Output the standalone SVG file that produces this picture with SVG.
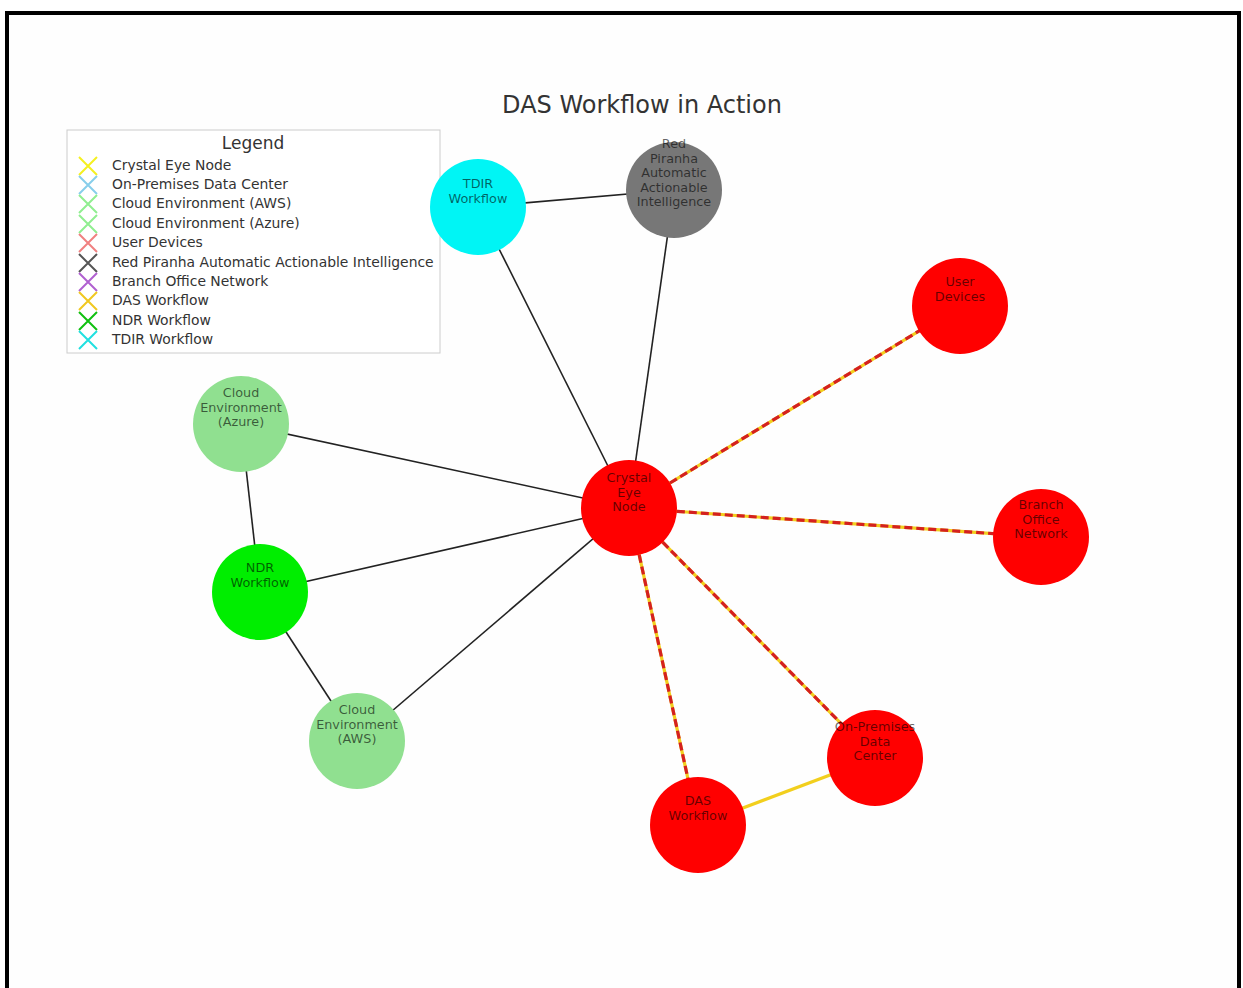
<svg xmlns="http://www.w3.org/2000/svg" width="1243" height="988" viewBox="0 0 1243 988">
<style>
.lbl{font-family:"DejaVu Sans",sans-serif;font-size:12.8px;fill:#000;fill-opacity:0.6;text-anchor:middle}
.leg{font-family:"DejaVu Sans",sans-serif;font-size:13.9px;fill:#333}
.blk{stroke:#222;stroke-width:1.6;fill:none}
.ybase{stroke:#f2cf1d;stroke-width:3.2;fill:none}
.rdash{stroke:#d42020;stroke-width:3.2;fill:none;stroke-dasharray:8 4}
.red{fill:#ff0000}
.mk{stroke-width:2;fill:none}
</style>
<rect x="0" y="0" width="1243" height="988" fill="#fff"/>
<rect x="7" y="13" width="1232" height="1000" fill="#fefefe" stroke="#000" stroke-width="4"/>
<text x="642" y="113" font-family="DejaVu Sans, sans-serif" font-size="24" fill="#333" text-anchor="middle">DAS Workflow in Action</text>
<g id="connectors">
<line class="blk" x1="478" y1="207" x2="674" y2="190"/>
<line class="blk" x1="478" y1="207" x2="629" y2="508"/>
<line class="blk" x1="674" y1="190" x2="629" y2="508"/>
<line class="blk" x1="241" y1="424" x2="629" y2="508"/>
<line class="blk" x1="241" y1="424" x2="260" y2="592"/>
<line class="blk" x1="260" y1="592" x2="629" y2="508"/>
<line class="blk" x1="260" y1="592" x2="357" y2="741"/>
<line class="blk" x1="357" y1="741" x2="629" y2="508"/>
<line class="ybase" x1="698" y1="825" x2="875" y2="758"/>
<line class="ybase" x1="629" y1="508" x2="960" y2="306"/>
<line class="rdash" x1="629" y1="508" x2="960" y2="306"/>
<line class="ybase" x1="629" y1="508" x2="1041" y2="537"/>
<line class="rdash" x1="629" y1="508" x2="1041" y2="537"/>
<line class="ybase" x1="629" y1="508" x2="875" y2="758"/>
<line class="rdash" x1="629" y1="508" x2="875" y2="758"/>
<line class="ybase" x1="629" y1="508" x2="698" y2="825"/>
<line class="rdash" x1="629" y1="508" x2="698" y2="825"/>
</g>
<g id="legend">
<rect x="67" y="130" width="373" height="223" fill="#fff" stroke="#ccc" stroke-width="1"/>
<text x="253" y="149" font-family="DejaVu Sans, sans-serif" font-size="17" fill="#333" text-anchor="middle">Legend</text>
<g class="mk">
<path d="M79 157l18 18M97 157l-18 18" stroke="#f5f020"/>
<path d="M79 176l18 18M97 176l-18 18" stroke="#87ceeb"/>
<path d="M79 195l18 18M97 195l-18 18" stroke="#90ee90"/>
<path d="M79 215l18 18M97 215l-18 18" stroke="#90ee90"/>
<path d="M79 234l18 18M97 234l-18 18" stroke="#f08080"/>
<path d="M79 254l18 18M97 254l-18 18" stroke="#555"/>
<path d="M79 273l18 18M97 273l-18 18" stroke="#b060d0"/>
<path d="M79 292l18 18M97 292l-18 18" stroke="#f0c820"/>
<path d="M79 312l18 18M97 312l-18 18" stroke="#10c010"/>
<path d="M79 331l18 18M97 331l-18 18" stroke="#20e0e0"/>
</g>
<text class="leg" x="112" y="170">Crystal Eye Node</text>
<text class="leg" x="112" y="189">On-Premises Data Center</text>
<text class="leg" x="112" y="208">Cloud Environment (AWS)</text>
<text class="leg" x="112" y="228">Cloud Environment (Azure)</text>
<text class="leg" x="112" y="247">User Devices</text>
<text class="leg" x="112" y="267">Red Piranha Automatic Actionable Intelligence</text>
<text class="leg" x="112" y="286">Branch Office Network</text>
<text class="leg" x="112" y="305">DAS Workflow</text>
<text class="leg" x="112" y="325">NDR Workflow</text>
<text class="leg" x="112" y="344">TDIR Workflow</text>
</g>
<g id="node-tdir"><circle cx="478" cy="207" r="48" fill="#00f5f5"/><text class="lbl"><tspan x="478" y="188">TDIR</tspan><tspan x="478" y="202.5">Workflow</tspan></text></g>
<g id="node-redpiranha"><circle cx="674" cy="190" r="48" fill="#777"/><text class="lbl"><tspan x="674" y="148">Red</tspan><tspan x="674" y="162.5">Piranha</tspan><tspan x="674" y="177">Automatic</tspan><tspan x="674" y="191.5">Actionable</tspan><tspan x="674" y="206">Intelligence</tspan></text></g>
<g id="node-userdevices"><circle cx="960" cy="306" r="48" class="red"/><text class="lbl"><tspan x="960" y="286">User</tspan><tspan x="960" y="300.5">Devices</tspan></text></g>
<g id="node-azure"><circle cx="241" cy="424" r="48" fill="#90e090"/><text class="lbl"><tspan x="241" y="397">Cloud</tspan><tspan x="241" y="411.5">Environment</tspan><tspan x="241" y="426">(Azure)</tspan></text></g>
<g id="node-crystal"><circle cx="629" cy="508" r="48" class="red"/><text class="lbl"><tspan x="629" y="482">Crystal</tspan><tspan x="629" y="496.5">Eye</tspan><tspan x="629" y="511">Node</tspan></text></g>
<g id="node-branch"><circle cx="1041" cy="537" r="48" class="red"/><text class="lbl"><tspan x="1041" y="509">Branch</tspan><tspan x="1041" y="523.5">Office</tspan><tspan x="1041" y="538">Network</tspan></text></g>
<g id="node-ndr"><circle cx="260" cy="592" r="48" fill="#00ee00"/><text class="lbl"><tspan x="260" y="572">NDR</tspan><tspan x="260" y="586.5">Workflow</tspan></text></g>
<g id="node-aws"><circle cx="357" cy="741" r="48" fill="#90e090"/><text class="lbl"><tspan x="357" y="714">Cloud</tspan><tspan x="357" y="728.5">Environment</tspan><tspan x="357" y="743">(AWS)</tspan></text></g>
<g id="node-onprem"><circle cx="875" cy="758" r="48" class="red"/><text class="lbl"><tspan x="875" y="731">On-Premises</tspan><tspan x="875" y="745.5">Data</tspan><tspan x="875" y="760">Center</tspan></text></g>
<g id="node-das"><circle cx="698" cy="825" r="48" class="red"/><text class="lbl"><tspan x="698" y="805">DAS</tspan><tspan x="698" y="819.5">Workflow</tspan></text></g>
</svg>
